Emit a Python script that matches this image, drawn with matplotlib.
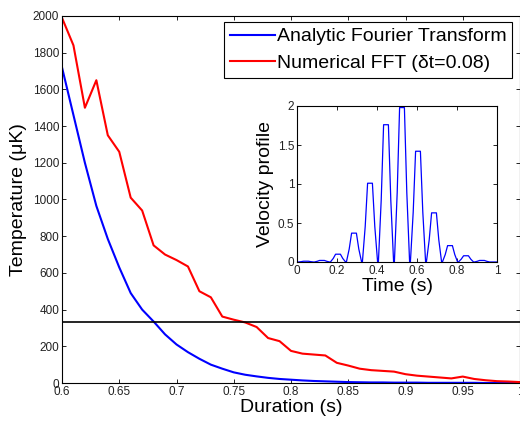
import numpy as np
import matplotlib.pyplot as plt

plt.rcParams['font.family'] = ['Liberation Sans', 'DejaVu Sans']

# cooling duration (s) and temperatures (uK)
duration = np.round(np.arange(0.60, 1.001, 0.01), 2)
temp_analytic = [1720, 1460, 1200, 965, 785, 630, 490, 400, 335, 265,
                 210, 168, 132, 100, 78, 58, 45, 36, 28, 22,
                 18, 14, 11, 9, 7, 5, 4, 3, 3, 2,
                 2, 2, 1, 1, 1, 1, 1, 0, 0, 0, 0]
temp_fft = [1990, 1840, 1500, 1650, 1350, 1260, 1010, 940, 750, 700,
            670, 635, 500, 467, 362, 345, 330, 305, 245, 228,
            175, 160, 155, 150, 110, 95, 78, 70, 66, 62,
            48, 40, 35, 30, 25, 35, 22, 15, 10, 8, 5]
temp_limit = 330

# velocity pulses for the inset (centre time, peak value)
pulse_t = [0.045, 0.125, 0.205, 0.285, 0.365, 0.445, 0.525, 0.605, 0.685, 0.765, 0.845, 0.925]
pulse_v = [0.01, 0.02, 0.10, 0.37, 1.01, 1.76, 1.98, 1.42, 0.63, 0.21, 0.08, 0.02]
# outline of one pulse: time offset, fraction of peak
shape_dt = [-0.038, -0.024, -0.012, 0.012, 0.024, 0.038]
shape_f = [0.0, 0.45, 1.0, 1.0, 0.45, 0.0]

# build the velocity trace
vt = [0.0]
vv = [0.0]
for c, a in zip(pulse_t, pulse_v):
    for d, f in zip(shape_dt, shape_f):
        vt.append(c + d)
        vv.append(a * f)
vt.append(1.0)
vv.append(0.0)

fig = plt.figure(figsize=(5.2, 4.23), dpi=100)
ax = fig.add_axes([62/520, 40/423, 458/520, 367/423])

ax.plot(duration, temp_analytic, color='b', lw=1.5, label='Analytic Fourier Transform')
ax.plot(duration, temp_fft, color='r', lw=1.5, label='Numerical FFT (\u03b4t=0.08)')
ax.axhline(temp_limit, color='k', lw=1.2)

ax.set_xlim(0.6, 1.0)
ax.set_ylim(0, 2000)
ax.set_xticks([0.6, 0.65, 0.7, 0.75, 0.8, 0.85, 0.9, 0.95, 1.0])
ax.set_xticklabels(['0.6', '0.65', '0.7', '0.75', '0.8', '0.85', '0.9', '0.95', '1'])
ax.set_yticks(range(0, 2001, 200))
ax.tick_params(direction='in', top=True, right=True, length=3, width=0.6,
               labelsize=8.5, labelcolor='#222222', pad=2)
for s in ax.spines.values():
    s.set_linewidth(0.8)
ax.set_xlabel('Duration (s)', fontsize=14, labelpad=1)
ax.set_ylabel('Temperature (\u03bcK)', fontsize=14, labelpad=4)

leg = ax.legend(loc='upper right', bbox_to_anchor=(0.983, 0.984), fontsize=14,
                fancybox=False, edgecolor='k', framealpha=1, handlelength=2.3,
                handletextpad=0.1, borderpad=0.3, labelspacing=0.45, borderaxespad=0)
leg.get_frame().set_linewidth(0.8)

# inset with the velocity profile
axi = fig.add_axes([297/520, 161/423, 200/520, 156/423])
axi.plot(vt, vv, color='b', lw=0.9)
axi.set_xlim(0, 1)
axi.set_ylim(0, 2)
axi.set_xticks([0, 0.2, 0.4, 0.6, 0.8, 1])
axi.set_xticklabels(['0', '0.2', '0.4', '0.6', '0.8', '1'])
axi.set_yticks([0, 0.5, 1, 1.5, 2])
axi.set_yticklabels(['0', '0.5', '1', '1.5', '2'])
axi.tick_params(direction='in', top=True, right=True, length=3, width=0.6,
                labelsize=8.5, labelcolor='#222222', pad=2)
for s in axi.spines.values():
    s.set_linewidth(0.8)
axi.set_xlabel('Time (s)', fontsize=14, labelpad=1)
axi.set_ylabel('Velocity profile', fontsize=14, labelpad=3)

fig.savefig('out.png', dpi=100)
